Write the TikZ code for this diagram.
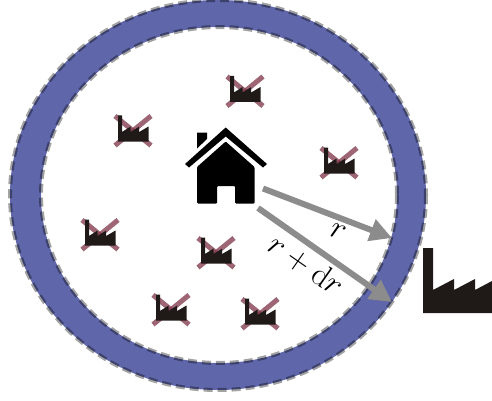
\documentclass[tikz,border=0pt]{standalone}
\usetikzlibrary{arrows.meta}
\tikzset{
  ringfill/.style={fill=ringblue,draw=none,even odd rule},
  ringedge/.style={draw=black,draw opacity=.36,line width=4pt,dash pattern=on 9pt off 5pt},
  rarrow/.style={draw=arrowgrey,line width=6pt,-{Triangle[length=22pt,width=22pt]},shorten >=0pt},
  dimlabel/.style={inner sep=0pt,font=\fontsize{23}{23}\selectfont,scale=1.3,transform shape},
  smallfactory/.pic={
    \draw[crossred] (-18,-15) -- (18,14.5);
    \draw[crossred] (-18,14.5) -- (18,-15);
    \fill[factoryblack] (-15,-15.5) -- (-11,-15.5) -- (-11,1) -- (-2.4,-4.5) -- (-2.4,1) -- (6.2,-4.5) -- (6.2,1) -- (15.5,-4.5) -- (15.5,10.5) -- (-15,10.5) -- cycle;
  },
  crossred/.style={draw=crosscol,draw opacity=.75,line width=5pt}
}
\definecolor{ringblue}{HTML}{5F66AA}
\definecolor{arrowgrey}{HTML}{8C8C8C}
\definecolor{factoryblack}{HTML}{1F1A17}
\definecolor{crosscol}{HTML}{7E3347}
\begin{document}
\begin{tikzpicture}[x=1pt,y=-1pt]
\useasboundingbox (0,0) rectangle (492,401);
% ring
\path[ringfill] (218,195) ellipse [x radius=208,y radius=195] (219,195) ellipse [x radius=178,y radius=168];
\path[ringedge] (218,195) ellipse [x radius=208,y radius=195];
\path[ringedge] (219,195) ellipse [x radius=178,y radius=168];
% small factories
\pic at (245,91.5) {smallfactory};
\pic at (133,131) {smallfactory};
\pic at (339,163) {smallfactory};
\pic at (100,235) {smallfactory};
\pic at (216,253) {smallfactory};
\pic at (171,310) {smallfactory};
\pic at (260,314) {smallfactory};
% house
\fill[black] (197,132.5) -- (207,132.5) -- (207,139) -- (197,148.5) -- cycle;
\fill[black] (225.7,127.5) -- (267,164) -- (263,167.5) -- (225.7,136.5) -- (189,167.5) -- (185,164) -- cycle;
\fill[black,rounded corners=1pt] (225.7,141.5) -- (254.5,167) -- (254.5,203.5) -- (235,203.5) -- (235,186) -- (217,186) -- (217,203.5) -- (197,203.5) -- (197,167) -- cycle;
% big factory
\fill[factoryblack] (423,248) -- (433,248) -- (433,290) -- (454,279) -- (454,290) -- (475,279) -- (475,290) -- (492,281) -- (492,313) -- (423,313) -- cycle;
% arrows
\coordinate (houseA) at (263,188.5);
\coordinate (tipA) at (392,238);
\coordinate (houseB) at (258,208);
\coordinate (tipB) at (392,302);
\draw[rarrow] (houseA) -- (tipA);
\draw[rarrow] (houseB) -- (tipB);
\node[dimlabel,rotate=-21] (labelr) at (338,232) {$r$};
\node[dimlabel,rotate=-35] (labelrdr) at (306,265) {$r+\mathrm{d}r$};
\end{tikzpicture}
\end{document}
